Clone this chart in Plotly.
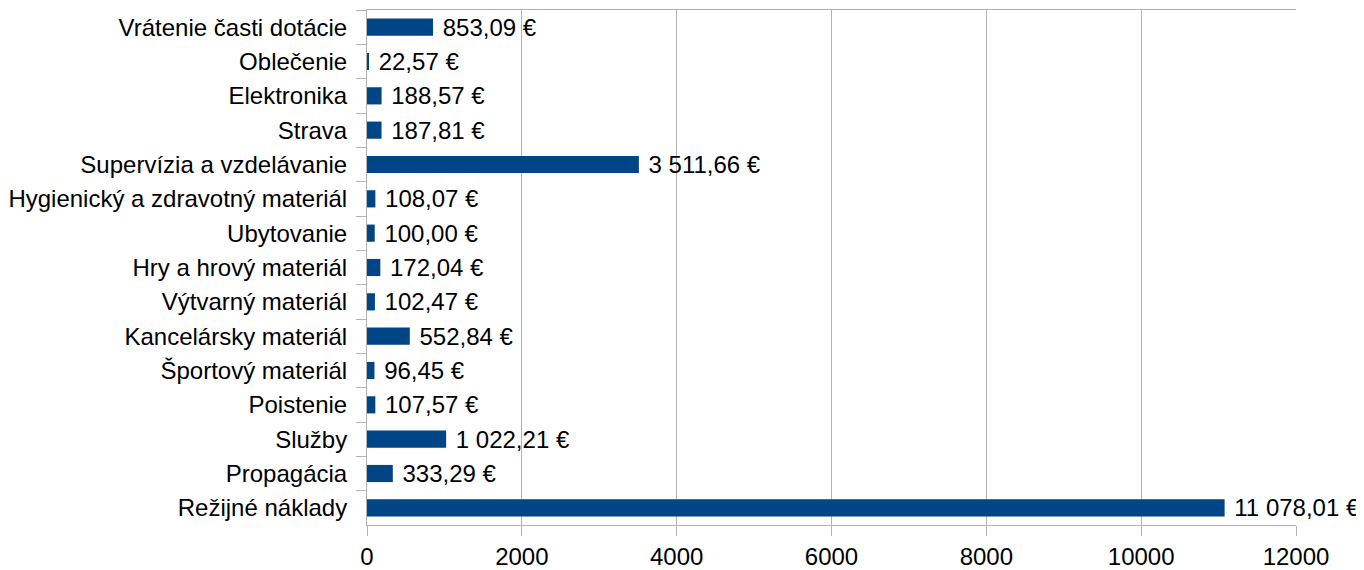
import plotly.graph_objects as go

categories = [
    "Vrátenie časti dotácie",
    "Oblečenie",
    "Elektronika",
    "Strava",
    "Supervízia a vzdelávanie",
    "Hygienický a zdravotný materiál",
    "Ubytovanie",
    "Hry a hrový materiál",
    "Výtvarný materiál",
    "Kancelársky materiál",
    "Športový materiál",
    "Poistenie",
    "Služby",
    "Propagácia",
    "Režijné náklady",
]
values = [853.09, 22.57, 188.57, 187.81, 3511.66, 108.07, 100.00, 172.04,
          102.47, 552.84, 96.45, 107.57, 1022.21, 333.29, 11078.01]
x_ticks = [0, 2000, 4000, 6000, 8000, 10000, 12000]


def fmt(v):
    s = f"{v:,.2f}"
    s = s.replace(",", " ").replace(".", ",")
    return " " + s + " €"


labels = [fmt(v) for v in values]

FS = 24
grid = "#b3b3b3"
fig = go.Figure(go.Bar(
    x=values, y=categories, orientation="h",
    marker=dict(color="#004586", line=dict(width=0)),
    text=labels, textposition="outside", cliponaxis=False,
    constraintext="none",
    textfont=dict(family="Liberation Sans", size=FS, color="#000000"),
    width=0.5,
))
# page body adds an 8px offset, so the figure is sized to fit the window
fig.update_layout(
    width=1356, height=562,
    margin=dict(l=359, r=68, t=2, b=45, autoexpand=False),
    plot_bgcolor="white", paper_bgcolor="white",
    font=dict(family="Liberation Sans", size=FS, color="#000000"),
    showlegend=False,
    bargap=0.5,
)
fig.update_xaxes(
    range=[0, 12000], tickvals=x_ticks, ticktext=[str(t) for t in x_ticks],
    showgrid=True, gridcolor=grid, gridwidth=1,
    showline=True, linecolor=grid, linewidth=1, mirror=True,
    ticks="outside", ticklen=10, tickcolor=grid, zeroline=False,
    automargin=False,
)
fig.update_yaxes(
    autorange="reversed", showgrid=False,
    showline=True, linecolor=grid, linewidth=1,
    ticks="outside", ticklen=10, tickcolor=grid, tickson="boundaries",
    ticklabelstandoff=14, automargin=False,
)
fig.write_html("out.html")
